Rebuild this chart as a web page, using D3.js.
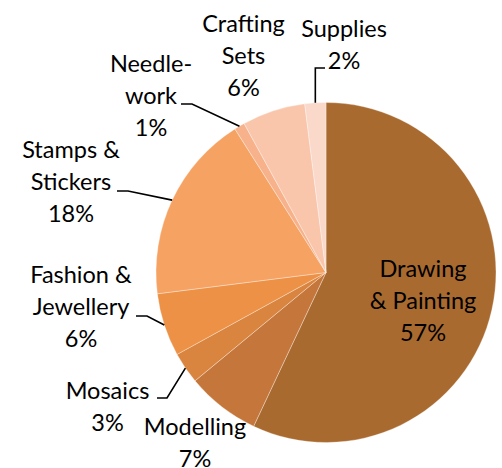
<!DOCTYPE html>
<html>
<head>
<meta charset="utf-8">
<script src="https://cdn.jsdelivr.net/npm/d3@7"></script>
<style>
  html, body { margin: 0; padding: 0; background: #ffffff; }
  svg { display: block; }
  text { font-family: Lato, "Open Sans", sans-serif; fill: #000; }
</style>
</head>
<body>
<svg id="chart" width="502" height="468"></svg>
<script>
// Product categories, clockwise from 12 o'clock
const categories = ["Drawing & Painting", "Modelling", "Mosaics", "Fashion & Jewellery",
                    "Stamps & Stickers", "Needlework", "Crafting Sets", "Supplies"];
// Share of sales, percent
const shares = [57, 7, 3, 6, 18, 1, 6, 2];
// How each category name is broken over lines in its label
const nameLines = [["Drawing", "& Painting"], ["Modelling"], ["Mosaics"], ["Fashion &", "Jewellery"],
                   ["Stamps &", "Stickers"], ["Needle-", "work"], ["Crafting", "Sets"], ["Supplies"]];
const sliceColors = ["#a96a30", "#c5763a", "#d9843f", "#ec9145", "#f6a263", "#f7b28b", "#f9c6ab", "#fad8ca"];

// Label placement: centre x and first baseline y of each label block,
// plus the leader-line route (elbow and end) for labels outside the pie.
const labelLayout = {
  "Drawing & Painting":  { x: 423,   y: 277 },
  "Modelling":           { x: 195,   y: 435 },
  "Mosaics":             { x: 107.5, y: 399, elbow: [167, 398], end: [157, 398] },
  "Fashion & Jewellery": { x: 81,    y: 283, elbow: [147, 316], end: [136, 316] },
  "Stamps & Stickers":   { x: 71,    y: 158, elbow: [128, 191], end: [117, 191] },
  "Needlework":          { x: 151,   y: 72,  elbow: [192, 104], end: [181, 104] },
  "Crafting Sets":       { x: 243.5, y: 32 },
  "Supplies":            { x: 344,   y: 37,  elbow: [null, 68], end: [325, 68] }
};
const lineGap = 32;
const fontSize = 23.5;

const svg = d3.select("#chart");
const cx = 326, cy = 272.5, radius = 170;

const pie = d3.pie().sort(null).value(d => d.value);
const arcs = pie(categories.map((c, i) => ({ name: c, value: shares[i], lines: nameLines[i], color: sliceColors[i] })));
const arc = d3.arc().innerRadius(0).outerRadius(radius);
const edgeArc = d3.arc().innerRadius(radius).outerRadius(radius);

const g = svg.append("g").attr("transform", `translate(${cx},${cy})`);

g.selectAll("path.slice")
  .data(arcs)
  .join("path")
  .attr("class", "slice")
  .attr("d", arc)
  .attr("fill", d => d.data.color)
  .attr("stroke", "#ffffff")
  .attr("stroke-opacity", 0.55)
  .attr("stroke-width", 0.6);

// Leader lines from the rim of the slice to the label
const leaders = svg.append("g")
  .attr("fill", "none")
  .attr("stroke", "#000")
  .attr("stroke-width", 1.6);

arcs.forEach(d => {
  const L = labelLayout[d.data.name];
  if (!L.elbow) return;
  const mid = (d.startAngle + d.endAngle) / 2;
  const ex = cx + radius * Math.sin(mid);
  const ey = cy - radius * Math.cos(mid);
  const elbow = [L.elbow[0] === null ? ex : L.elbow[0], L.elbow[1]];
  leaders.append("path")
    .attr("d", d3.line()([[ex, ey], elbow, L.end]));
});

// Category labels with their percentages
const labels = svg.append("g")
  .attr("font-size", fontSize)
  .attr("text-anchor", "middle");

arcs.forEach(d => {
  const L = labelLayout[d.data.name];
  const rows = d.data.lines.concat([d.data.value + "%"]);
  const t = labels.append("text").attr("x", L.x).attr("y", L.y);
  rows.forEach((row, i) => {
    t.append("tspan")
      .attr("x", L.x)
      .attr("y", L.y + i * lineGap)
      .text(row);
  });
});
</script>
</body>
</html>
